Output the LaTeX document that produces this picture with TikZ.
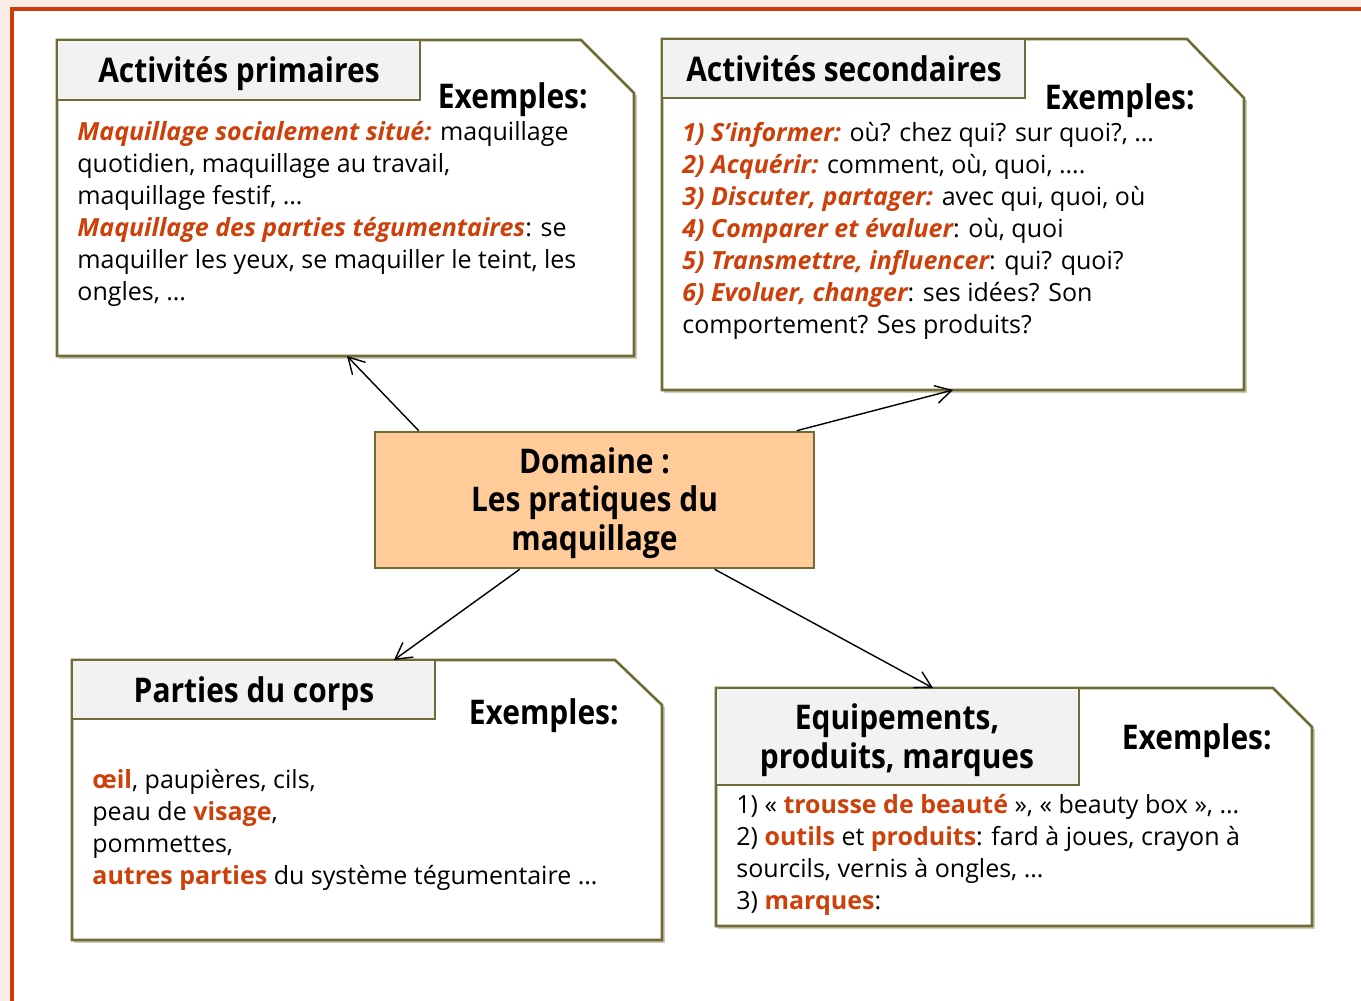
\documentclass[tikz,border=0pt]{standalone}
\usepackage{fontspec}
\setmainfont{Open Sans}
\newfontfamily\headfont[FakeStretch=0.88]{Open Sans}
\usetikzlibrary{arrows.meta,calc}
\definecolor{olivebox}{RGB}{112,108,56}
\definecolor{tabgray}{RGB}{242,242,242}
\definecolor{peach}{RGB}{255,204,153}
\definecolor{accent}{RGB}{205,64,10}
\definecolor{framered}{RGB}{208,58,10}
\definecolor{pinkbg}{RGB}{250,236,231}
\def\cutbox(#1,#2)(#3,#4)(#5,#6){%
  \draw[olivebox!35, line width=1.3pt] (#1+2,#4+2) -- (#3+2,#4+2) -- (#3+2,#6+2);
  \draw[boxline, fill=white] (#1,#4) -- (#1,#2) -- (#5,#2) -- (#3,#6) -- (#3,#4) -- cycle;}
\newcommand\hl[1]{{\color{accent}\bfseries #1}}
\newcommand\hli[1]{{\color{accent}\bfseries\itshape #1}}

\begin{document}
\begin{tikzpicture}[x=0.5pt, y=-0.5pt,
    boxline/.style={draw=olivebox, line width=1.3pt},
    tabbox/.style={boxline, fill=tabgray},
    heading/.style={font=\headfont\bfseries\fontsize{17}{19.25}\selectfont, align=center, inner sep=0pt},
    body/.style={font=\fontsize{12.5}{16}\selectfont, anchor=base west, align=left, inner sep=0pt},
    domainbox/.style={boxline, fill=peach, minimum width=219.5pt, minimum height=68pt},
    arr/.style={-{Straight Barb[length=8pt,width=9pt]}, line width=0.7pt}]
  \useasboundingbox (0,0) rectangle (1361,1001);
  \fill[pinkbg] (0,0) rectangle (1361,1001);
  \fill[white] (12,9) rectangle (1361,1001);
  \draw[framered, line width=2pt] (12,1001) -- (12,9) -- (1361,9);

  % boxes
  \cutbox(57,40)(634,356)(581,93)
  \cutbox(662,39)(1244,390)(1187,98)
  \cutbox(72,660)(662,940)(615,705)
  \cutbox(716,688)(1312,926)(1273,727)

  % tabs
  \draw[tabbox] (57,40) rectangle (420,100);
  \draw[tabbox] (662,39) rectangle (1025,98);
  \draw[tabbox] (72,660) rectangle (435,719);
  \draw[tabbox] (716,688) rectangle (1079,785);

  \node[heading, anchor=base] (prim) at (239,82) {Activités primaires};
  \node[heading, anchor=base] (sec) at (844,81) {Activités secondaires};
  \node[heading, anchor=base] (corps) at (254,702) {Parties du corps};
  \node[heading, anchor=base] (equip) at (897,768) {Equipements,\\produits, marques};

  \node[heading, anchor=base east] (ex1) at (588,108) {Exemples:};
  \node[heading, anchor=base east] (ex2) at (1195,109) {Exemples:};
  \node[heading, anchor=base east] (ex3) at (619,724) {Exemples:};
  \node[heading, anchor=base east] (ex4) at (1272,749) {Exemples:};

  % texts (anchored on the last line)
  \node[body] (txt1) at (77,300) {\hli{Maquillage socialement situé:} maquillage\\
    quotidien, maquillage au travail,\\
    maquillage festif, …\\
    \hli{Maquillage des parties tégumentaires}: se\\
    maquiller les yeux, se maquiller le teint, les\\
    ongles, …};
  \node[body] (txt2) at (682,333) {\hli{1) S’informer:} où? chez qui? sur quoi?, …\\
    \hli{2) Acquérir:} comment, où, quoi, ….\\
    \hli{3) Discuter, partager:} avec qui, quoi, où\\
    \hli{4) Comparer et évaluer}: où, quoi\\
    \hli{5) Transmettre, influencer}: qui? quoi?\\
    \hli{6) Evoluer, changer}: ses idées? Son\\
    comportement? Ses produits?};
  \node[body] (txt3) at (92,884) {\hl{œil}, paupières, cils,\\
    peau de \hl{visage},\\
    pommettes,\\
    \hl{autres parties} du système tégumentaire …};
  \node[body] (txt4) at (736,909) {1) « \hl{trousse de beauté} », « beauty box », …\\
    2) \hl{outils} et \hl{produits}: fard à joues, crayon à\\
    sourcils, vernis à ongles, …\\
    3) \hl{marques}:};

  % centre
  \node[domainbox] (dom) at (594.5,500) {};
  \node[heading, anchor=base] (domtxt) at (594.5,550) {Domaine :\\Les pratiques du\\maquillage};

  \coordinate (e1) at (347,356);
  \coordinate (e2) at (953,390);
  \coordinate (e3) at (394,660);
  \coordinate (e4) at (933,688);
  \draw[arr] ($(dom.north west)+(45,0)$) -- (e1);
  \draw[arr] ($(dom.north west)+(423,0)$) -- (e2);
  \draw[arr] ($(dom.south west)+(146,0)$) -- (e3);
  \draw[arr] ($(dom.south west)+(341,0)$) -- (e4);
\end{tikzpicture}
\end{document}
